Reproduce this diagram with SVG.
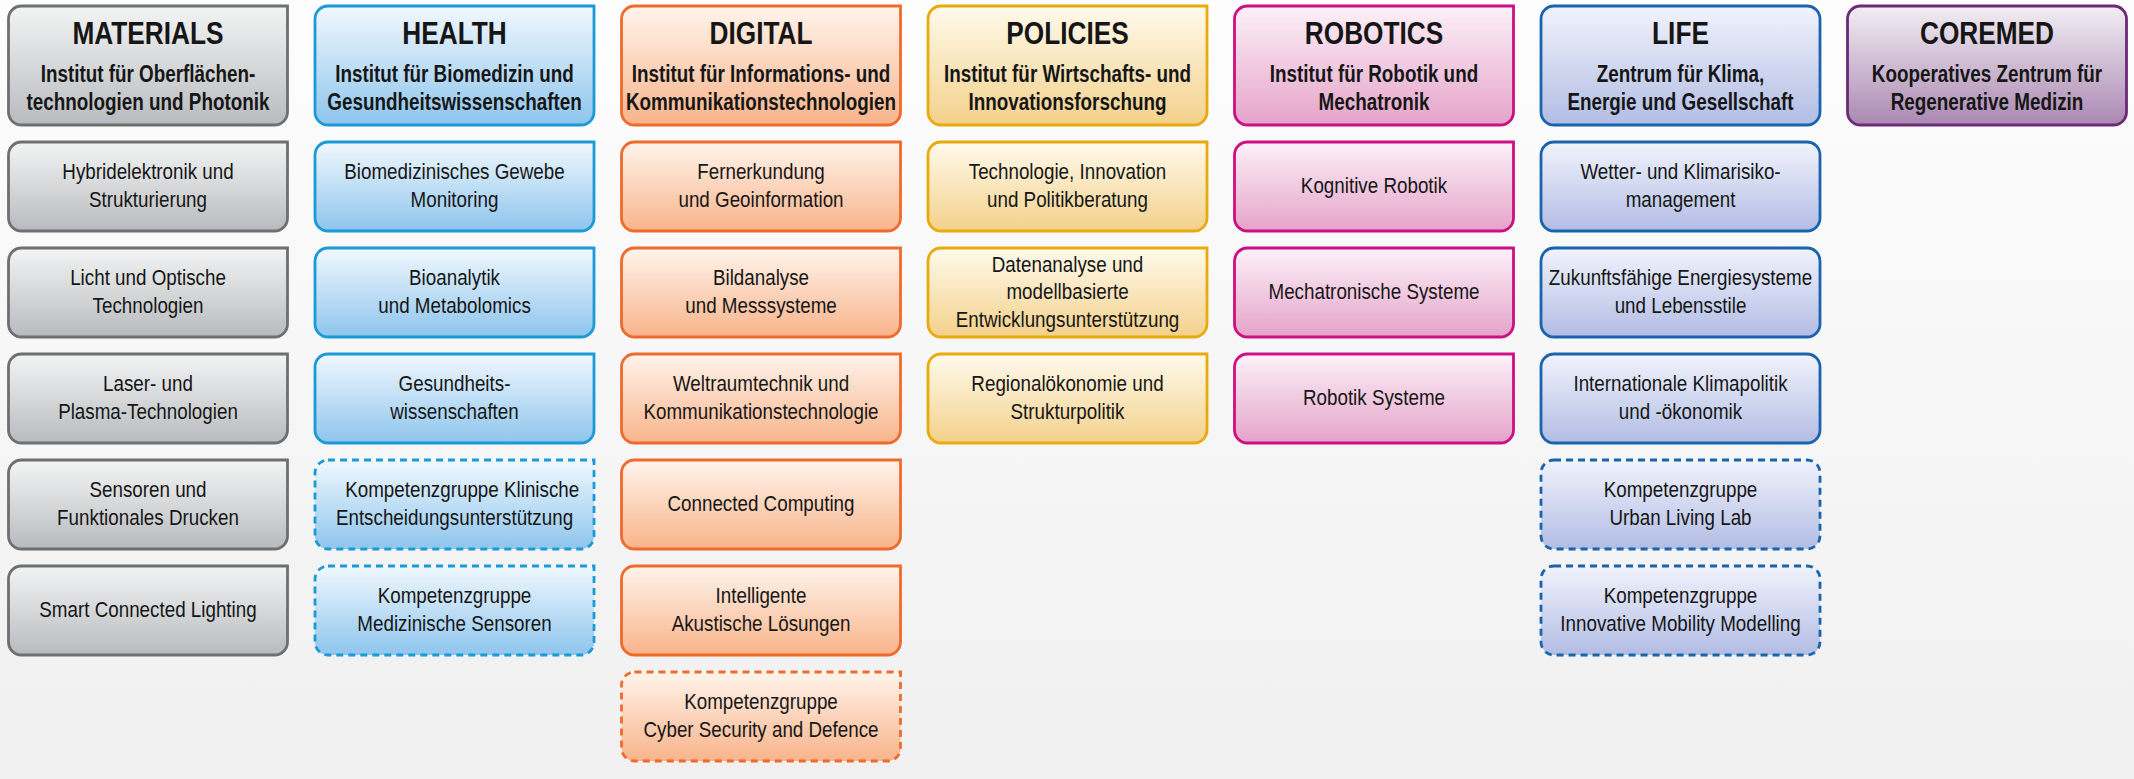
<svg xmlns="http://www.w3.org/2000/svg" width="2134" height="779" viewBox="0 0 2134 779">
<style>
text{font-family:"Liberation Sans",Arial,sans-serif;fill:#161616;text-anchor:middle}
.t{font-size:32px;font-weight:bold}
.s{font-size:23px;font-weight:bold}
.n{font-size:22px}
.box{stroke-width:2.8}
.d{stroke-dasharray:7 5}
.mat{fill:url(#gMat);stroke:#6d6f71}
.hea{fill:url(#gHea);stroke:#1b9ad7}
.dig{fill:url(#gDig);stroke:#ef6a2d}
.pol{fill:url(#gPol);stroke:#e8aa0c}
.rob{fill:url(#gRob);stroke:#cc1083}
.lif{fill:url(#gLif);stroke:#1a64ae}
.cor{fill:url(#gCor);stroke:#6c2a78}
</style>
<defs>
<linearGradient id="gBg" x1="0" y1="0" x2="0" y2="1"><stop offset="0" stop-color="#fdfdfd"/><stop offset="1" stop-color="#f0f0f0"/></linearGradient>
<linearGradient id="gMat" x1="0" y1="0" x2="0" y2="1"><stop offset="0" stop-color="#f3f4f4"/><stop offset="1" stop-color="#b8bbbe"/></linearGradient>
<linearGradient id="gHea" x1="0" y1="0" x2="0" y2="1"><stop offset="0" stop-color="#f1f8fe"/><stop offset="1" stop-color="#8ec5ed"/></linearGradient>
<linearGradient id="gDig" x1="0" y1="0" x2="0" y2="1"><stop offset="0" stop-color="#fff4ec"/><stop offset="1" stop-color="#f8b48a"/></linearGradient>
<linearGradient id="gPol" x1="0" y1="0" x2="0" y2="1"><stop offset="0" stop-color="#fffaec"/><stop offset="1" stop-color="#f3d18b"/></linearGradient>
<linearGradient id="gRob" x1="0" y1="0" x2="0" y2="1"><stop offset="0" stop-color="#fcf1f8"/><stop offset="1" stop-color="#e5a3c9"/></linearGradient>
<linearGradient id="gLif" x1="0" y1="0" x2="0" y2="1"><stop offset="0" stop-color="#f1f3fc"/><stop offset="1" stop-color="#b2bde4"/></linearGradient>
<linearGradient id="gCor" x1="0" y1="0" x2="0" y2="1"><stop offset="0" stop-color="#f2eef3"/><stop offset="1" stop-color="#aa88b2"/></linearGradient>
</defs>
<rect x="0" y="0" width="2134" height="779" fill="url(#gBg)"/>
<g id="connectors"/>

<!-- MATERIALS -->
<g id="materials-head"><path class="box mat" d="M21.5,6H287.5V112A13,13 0 0 1 274.5,125H21.5A13,13 0 0 1 8.5,112V19A13,13 0 0 1 21.5,6Z"/><g transform="translate(148 0) scale(0.82 1)"><text class="t" x="0" y="44">MATERIALS</text><text class="s" x="0" y="82">Institut für Oberflächen-</text><text class="s" x="0" y="110">technologien und Photonik</text></g></g>
<g id="mat-1"><path class="box mat" d="M21.5,142H287.5V218A13,13 0 0 1 274.5,231H21.5A13,13 0 0 1 8.5,218V155A13,13 0 0 1 21.5,142Z"/><g transform="translate(148 0) scale(0.855 1)"><text class="n" x="0" y="179.5">Hybridelektronik und</text><text class="n" x="0" y="207">Strukturierung</text></g></g>
<g id="mat-2"><path class="box mat" d="M21.5,248H287.5V324A13,13 0 0 1 274.5,337H21.5A13,13 0 0 1 8.5,324V261A13,13 0 0 1 21.5,248Z"/><g transform="translate(148 0) scale(0.855 1)"><text class="n" x="0" y="285.5">Licht und Optische</text><text class="n" x="0" y="313">Technologien</text></g></g>
<g id="mat-3"><path class="box mat" d="M21.5,354H287.5V430A13,13 0 0 1 274.5,443H21.5A13,13 0 0 1 8.5,430V367A13,13 0 0 1 21.5,354Z"/><g transform="translate(148 0) scale(0.855 1)"><text class="n" x="0" y="391.5">Laser- und</text><text class="n" x="0" y="419">Plasma-Technologien</text></g></g>
<g id="mat-4"><path class="box mat" d="M21.5,460H287.5V536A13,13 0 0 1 274.5,549H21.5A13,13 0 0 1 8.5,536V473A13,13 0 0 1 21.5,460Z"/><g transform="translate(148 0) scale(0.855 1)"><text class="n" x="0" y="497.5">Sensoren und</text><text class="n" x="0" y="525">Funktionales Drucken</text></g></g>
<g id="mat-5"><path class="box mat" d="M21.5,566H287.5V642A13,13 0 0 1 274.5,655H21.5A13,13 0 0 1 8.5,642V579A13,13 0 0 1 21.5,566Z"/><g transform="translate(148 0) scale(0.855 1)"><text class="n" x="0" y="617.5">Smart Connected Lighting</text></g></g>

<!-- HEALTH -->
<g id="health-head"><path class="box hea" d="M328,6H594V112A13,13 0 0 1 581,125H328A13,13 0 0 1 315,112V19A13,13 0 0 1 328,6Z"/><g transform="translate(454.5 0) scale(0.82 1)"><text class="t" x="0" y="44">HEALTH</text><text class="s" x="0" y="82">Institut für Biomedizin und</text><text class="s" x="0" y="110">Gesundheitswissenschaften</text></g></g>
<g id="hea-1"><path class="box hea" d="M328,142H594V218A13,13 0 0 1 581,231H328A13,13 0 0 1 315,218V155A13,13 0 0 1 328,142Z"/><g transform="translate(454.5 0) scale(0.855 1)"><text class="n" x="0" y="179.5">Biomedizinisches Gewebe</text><text class="n" x="0" y="207">Monitoring</text></g></g>
<g id="hea-2"><path class="box hea" d="M328,248H594V324A13,13 0 0 1 581,337H328A13,13 0 0 1 315,324V261A13,13 0 0 1 328,248Z"/><g transform="translate(454.5 0) scale(0.855 1)"><text class="n" x="0" y="285.5">Bioanalytik</text><text class="n" x="0" y="313">und Metabolomics</text></g></g>
<g id="hea-3"><path class="box hea" d="M328,354H594V430A13,13 0 0 1 581,443H328A13,13 0 0 1 315,430V367A13,13 0 0 1 328,354Z"/><g transform="translate(454.5 0) scale(0.855 1)"><text class="n" x="0" y="391.5">Gesundheits-</text><text class="n" x="0" y="419">wissenschaften</text></g></g>
<g id="hea-4"><path class="box hea d" d="M328,460H594V536A13,13 0 0 1 581,549H328A13,13 0 0 1 315,536V473A13,13 0 0 1 328,460Z"/><g transform="translate(454.5 0) scale(0.855 1)"><text class="n" x="9" y="497.5">Kompetenzgruppe Klinische</text><text class="n" x="0" y="525">Entscheidungsunterstützung</text></g></g>
<g id="hea-5"><path class="box hea d" d="M328,566H594V642A13,13 0 0 1 581,655H328A13,13 0 0 1 315,642V579A13,13 0 0 1 328,566Z"/><g transform="translate(454.5 0) scale(0.855 1)"><text class="n" x="0" y="603.5">Kompetenzgruppe</text><text class="n" x="0" y="631">Medizinische Sensoren</text></g></g>

<!-- DIGITAL -->
<g id="digital-head"><path class="box dig" d="M634.5,6H900.5V112A13,13 0 0 1 887.5,125H634.5A13,13 0 0 1 621.5,112V19A13,13 0 0 1 634.5,6Z"/><g transform="translate(761 0) scale(0.82 1)"><text class="t" x="0" y="44">DIGITAL</text><text class="s" x="0" y="82">Institut für Informations- und</text><text class="s" x="0" y="110">Kommunikationstechnologien</text></g></g>
<g id="dig-1"><path class="box dig" d="M634.5,142H900.5V218A13,13 0 0 1 887.5,231H634.5A13,13 0 0 1 621.5,218V155A13,13 0 0 1 634.5,142Z"/><g transform="translate(761 0) scale(0.855 1)"><text class="n" x="0" y="179.5">Fernerkundung</text><text class="n" x="0" y="207">und Geoinformation</text></g></g>
<g id="dig-2"><path class="box dig" d="M634.5,248H900.5V324A13,13 0 0 1 887.5,337H634.5A13,13 0 0 1 621.5,324V261A13,13 0 0 1 634.5,248Z"/><g transform="translate(761 0) scale(0.855 1)"><text class="n" x="0" y="285.5">Bildanalyse</text><text class="n" x="0" y="313">und Messsysteme</text></g></g>
<g id="dig-3"><path class="box dig" d="M634.5,354H900.5V430A13,13 0 0 1 887.5,443H634.5A13,13 0 0 1 621.5,430V367A13,13 0 0 1 634.5,354Z"/><g transform="translate(761 0) scale(0.855 1)"><text class="n" x="0" y="391.5">Weltraumtechnik und</text><text class="n" x="0" y="419">Kommunikationstechnologie</text></g></g>
<g id="dig-4"><path class="box dig" d="M634.5,460H900.5V536A13,13 0 0 1 887.5,549H634.5A13,13 0 0 1 621.5,536V473A13,13 0 0 1 634.5,460Z"/><g transform="translate(761 0) scale(0.855 1)"><text class="n" x="0" y="511.5">Connected Computing</text></g></g>
<g id="dig-5"><path class="box dig" d="M634.5,566H900.5V642A13,13 0 0 1 887.5,655H634.5A13,13 0 0 1 621.5,642V579A13,13 0 0 1 634.5,566Z"/><g transform="translate(761 0) scale(0.855 1)"><text class="n" x="0" y="603.5">Intelligente</text><text class="n" x="0" y="631">Akustische Lösungen</text></g></g>
<g id="dig-6"><path class="box dig d" d="M634.5,672H900.5V748A13,13 0 0 1 887.5,761H634.5A13,13 0 0 1 621.5,748V685A13,13 0 0 1 634.5,672Z"/><g transform="translate(761 0) scale(0.855 1)"><text class="n" x="0" y="709.5">Kompetenzgruppe</text><text class="n" x="0" y="737">Cyber Security and Defence</text></g></g>

<!-- POLICIES -->
<g id="policies-head"><path class="box pol" d="M941,6H1207V112A13,13 0 0 1 1194,125H941A13,13 0 0 1 928,112V19A13,13 0 0 1 941,6Z"/><g transform="translate(1067.5 0) scale(0.82 1)"><text class="t" x="0" y="44">POLICIES</text><text class="s" x="0" y="82">Institut für Wirtschafts- und</text><text class="s" x="0" y="110">Innovationsforschung</text></g></g>
<g id="pol-1"><path class="box pol" d="M941,142H1207V218A13,13 0 0 1 1194,231H941A13,13 0 0 1 928,218V155A13,13 0 0 1 941,142Z"/><g transform="translate(1067.5 0) scale(0.855 1)"><text class="n" x="0" y="179.5">Technologie, Innovation</text><text class="n" x="0" y="207">und Politikberatung</text></g></g>
<g id="pol-2"><path class="box pol" d="M941,248H1207V324A13,13 0 0 1 1194,337H941A13,13 0 0 1 928,324V261A13,13 0 0 1 941,248Z"/><g transform="translate(1067.5 0) scale(0.855 1)"><text class="n" x="0" y="272">Datenanalyse und</text><text class="n" x="0" y="299.5">modellbasierte</text><text class="n" x="0" y="327">Entwicklungsunterstützung</text></g></g>
<g id="pol-3"><path class="box pol" d="M941,354H1207V430A13,13 0 0 1 1194,443H941A13,13 0 0 1 928,430V367A13,13 0 0 1 941,354Z"/><g transform="translate(1067.5 0) scale(0.855 1)"><text class="n" x="0" y="391.5">Regionalökonomie und</text><text class="n" x="0" y="419">Strukturpolitik</text></g></g>

<!-- ROBOTICS -->
<g id="robotics-head"><path class="box rob" d="M1247.5,6H1513.5V112A13,13 0 0 1 1500.5,125H1247.5A13,13 0 0 1 1234.5,112V19A13,13 0 0 1 1247.5,6Z"/><g transform="translate(1374 0) scale(0.82 1)"><text class="t" x="0" y="44">ROBOTICS</text><text class="s" x="0" y="82">Institut für Robotik und</text><text class="s" x="0" y="110">Mechatronik</text></g></g>
<g id="rob-1"><path class="box rob" d="M1247.5,142H1513.5V218A13,13 0 0 1 1500.5,231H1247.5A13,13 0 0 1 1234.5,218V155A13,13 0 0 1 1247.5,142Z"/><g transform="translate(1374 0) scale(0.855 1)"><text class="n" x="0" y="193.5">Kognitive Robotik</text></g></g>
<g id="rob-2"><path class="box rob" d="M1247.5,248H1513.5V324A13,13 0 0 1 1500.5,337H1247.5A13,13 0 0 1 1234.5,324V261A13,13 0 0 1 1247.5,248Z"/><g transform="translate(1374 0) scale(0.855 1)"><text class="n" x="0" y="299.5">Mechatronische Systeme</text></g></g>
<g id="rob-3"><path class="box rob" d="M1247.5,354H1513.5V430A13,13 0 0 1 1500.5,443H1247.5A13,13 0 0 1 1234.5,430V367A13,13 0 0 1 1247.5,354Z"/><g transform="translate(1374 0) scale(0.855 1)"><text class="n" x="0" y="405.5">Robotik Systeme</text></g></g>

<!-- LIFE -->
<g id="life-head"><rect class="box lif" x="1541" y="6" width="279" height="119" rx="13"/><g transform="translate(1680.5 0) scale(0.82 1)"><text class="t" x="0" y="44">LIFE</text><text class="s" x="0" y="82">Zentrum für Klima,</text><text class="s" x="0" y="110">Energie und Gesellschaft</text></g></g>
<g id="lif-1"><rect class="box lif" x="1541" y="142" width="279" height="89" rx="13"/><g transform="translate(1680.5 0) scale(0.855 1)"><text class="n" x="0" y="179.5">Wetter- und Klimarisiko-</text><text class="n" x="0" y="207">management</text></g></g>
<g id="lif-2"><rect class="box lif" x="1541" y="248" width="279" height="89" rx="13"/><g transform="translate(1680.5 0) scale(0.855 1)"><text class="n" x="0" y="285.5">Zukunftsfähige Energiesysteme</text><text class="n" x="0" y="313">und Lebensstile</text></g></g>
<g id="lif-3"><rect class="box lif" x="1541" y="354" width="279" height="89" rx="13"/><g transform="translate(1680.5 0) scale(0.855 1)"><text class="n" x="0" y="391.5">Internationale Klimapolitik</text><text class="n" x="0" y="419">und -ökonomik</text></g></g>
<g id="lif-4"><rect class="box lif d" x="1541" y="460" width="279" height="89" rx="13"/><g transform="translate(1680.5 0) scale(0.855 1)"><text class="n" x="0" y="497.5">Kompetenzgruppe</text><text class="n" x="0" y="525">Urban Living Lab</text></g></g>
<g id="lif-5"><rect class="box lif d" x="1541" y="566" width="279" height="89" rx="13"/><g transform="translate(1680.5 0) scale(0.855 1)"><text class="n" x="0" y="603.5">Kompetenzgruppe</text><text class="n" x="0" y="631">Innovative Mobility Modelling</text></g></g>

<!-- COREMED -->
<g id="coremed-head"><rect class="box cor" x="1847.5" y="6" width="279" height="119" rx="13"/><g transform="translate(1987 0) scale(0.82 1)"><text class="t" x="0" y="44">COREMED</text><text class="s" x="0" y="82">Kooperatives Zentrum für</text><text class="s" x="0" y="110">Regenerative Medizin</text></g></g>
</svg>
